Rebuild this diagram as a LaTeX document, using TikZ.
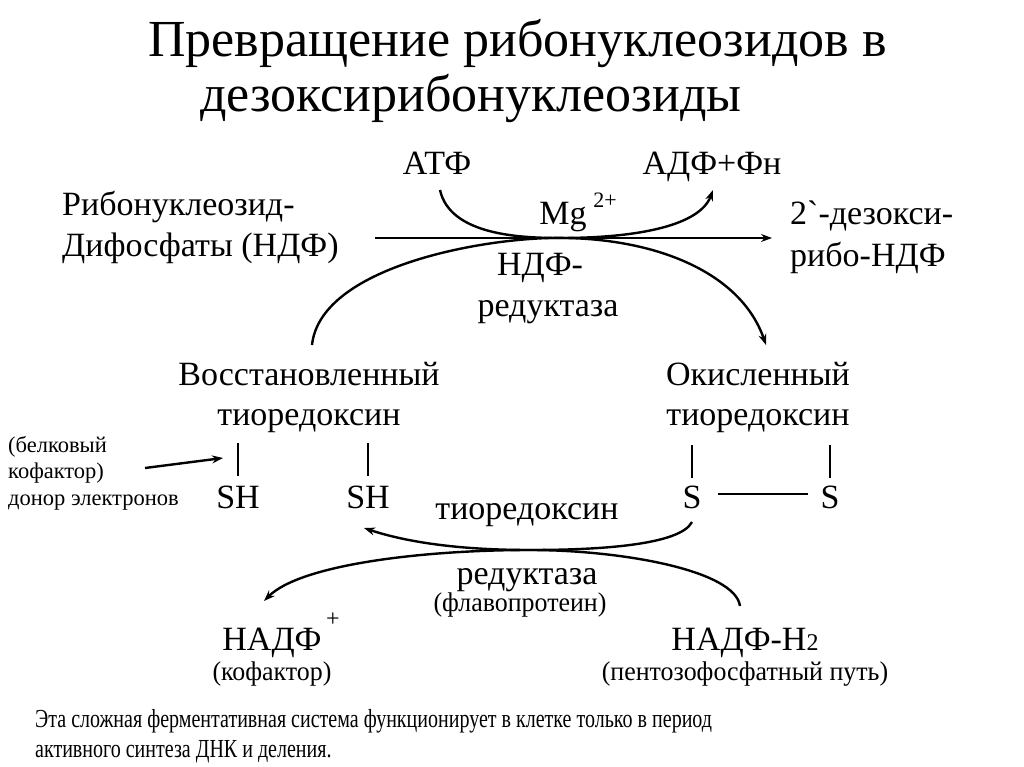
\documentclass[tikz,border=0pt]{standalone}
\usepackage{fontspec}
\setmainfont{Liberation Serif}
\newfontfamily\plainserif{Liberation Serif}
\usetikzlibrary{arrows.meta}
\begin{document}
\begin{tikzpicture}[x=1pt,y=-1pt,
  ttl/.style={inner sep=0pt, font=\fontsize{52}{58}\selectfont},
  lbl/.style={inner sep=0pt, font=\fontsize{34}{38}\selectfont},
  mid/.style={inner sep=0pt, font=\fontsize{27}{30}\selectfont, xscale=0.96},
  sml/.style={inner sep=0pt, font=\fontsize{22.5}{25}\selectfont},
  note/.style={inner sep=0pt, font=\fontsize{26}{29}\selectfont, xscale=0.77},
  conn/.style={line width=2.4pt},
  arr/.style={conn, -{Stealth[length=11pt,width=8pt]}},
  bar/.style={line width=2.4pt}]
\useasboundingbox (0,0) rectangle (1024,767);
\fill[white] (0,0) rectangle (1024,767);
% title
\node[ttl, anchor=base west] (t1) at (148,57) {Превращение рибонуклеозидов в};
\node[ttl, anchor=base west] (t2) at (200,112) {дезоксирибонуклеозиды};
% top reaction
\node[lbl, anchor=base] (atf) at (437,175) {АТФ};
\node[lbl, anchor=base] (adf) at (712,175) {АДФ+Фн};
\node[lbl, anchor=base west] (rib1) at (62,215) {Рибонуклеозид-};
\node[lbl, anchor=base west] (rib2) at (62,256) {Дифосфаты (НДФ)};
\node[lbl, anchor=base west] (des1) at (790,225) {\plainserif 2`-дезокси-};
\node[lbl, anchor=base west] (des2) at (790,266) {рибо-НДФ};
\node[lbl, anchor=base] (mg) at (563,225) {Mg};
\node[inner sep=0pt, font=\fontsize{22}{24}\selectfont, anchor=base] (mgc) at (605,208) {2+};
\node[lbl, anchor=base] (ndf) at (540,275) {НДФ-};
\node[lbl, anchor=base] (red1) at (548,316) {редуктаза};
\coordinate (hl) at (375,238);
\coordinate (hr) at (772,238);
\draw[arr] (hl) -- (hr);
\coordinate (atfs) at (440,190);
\coordinate (adfe) at (713,190);
\draw[arr] (atfs) .. controls (450,235) and (520,238) .. (560,238)
  .. controls (640,238) and (700,225) .. (adfe);
% thioredoxin
\node[lbl, anchor=base] (vos1) at (309,385) {Восстановленный};
\node[lbl, anchor=base] (vos2) at (309,425) {тиоредоксин};
\node[lbl, anchor=base] (ok1) at (758,385) {Окисленный};
\node[lbl, anchor=base] (ok2) at (758,425) {тиоредоксин};
\coordinate (bigs) at (312,345);
\coordinate (bige) at (766,345);
\draw[arr] (bigs) .. controls (320,270) and (470,240) .. (550,238)
  .. controls (650,236) and (740,270) .. (bige);
% SH groups
\node[lbl, anchor=base] (sh1) at (238,508) {SH};
\node[lbl, anchor=base] (sh2) at (368,508) {SH};
\node[lbl, anchor=base] (s1) at (692,508) {S};
\node[lbl, anchor=base] (s2) at (830,508) {S};
\draw[bar] (238,443) -- (238,476);
\draw[bar] (368,443) -- (368,476);
\draw[bar] (692,445) -- (692,478);
\draw[bar] (830,445) -- (830,478);
\coordinate (ssa) at (718,494);
\coordinate (ssb) at (808,494);
\draw[bar] (ssa) -- (ssb);
% left label
\node[sml, anchor=base west] (bk1) at (8,452) {(белковый};
\node[sml, anchor=base west] (bk2) at (8,478) {кофактор)};
\node[sml, anchor=base west] (bk3) at (8,505) {донор электронов};
\coordinate (la) at (145,468);
\coordinate (lb) at (223,458);
\draw[arr] (la) -- (lb);
% lower reaction
\node[lbl, anchor=base] (tio) at (527,519) {тиоредоксин};
\node[lbl, anchor=base] (red2) at (527,584) {редуктаза};
\node[mid, anchor=base] (flav) at (520,611) {(флавопротеин)};
\node[lbl, anchor=base] (nadf) at (272,650) {НАДФ};
\node[inner sep=0pt, font=\fontsize{24}{26}\selectfont, anchor=base] (nadfp) at (333,626) {+};
\node[mid, anchor=base] (kof) at (272,680) {(кофактор)};
\node[lbl, anchor=base] (nadfh) at (745,650) {НАДФ-Н\fontsize{24}{26}\selectfont 2};
\node[mid, anchor=base] (pent) at (745,680) {(пентозофосфатный путь)};
\coordinate (ls) at (692,522);
\coordinate (le) at (364,528);
\draw[arr] (ls) .. controls (680,545) and (600,550) .. (530,550)
  .. controls (450,550) and (400,540) .. (le);
\coordinate (ms) at (740,606);
\coordinate (me) at (264,601);
\draw[arr] (ms) .. controls (735,570) and (620,550) .. (530,550)
  .. controls (420,550) and (300,565) .. (me);
% note
\node[note, anchor=base west] (n1) at (35,727) {Эта сложная ферментативная система функционирует в клетке только в период};
\node[note, anchor=base west] (n2) at (35,757) {активного синтеза ДНК и деления.};
\end{tikzpicture}
\end{document}
